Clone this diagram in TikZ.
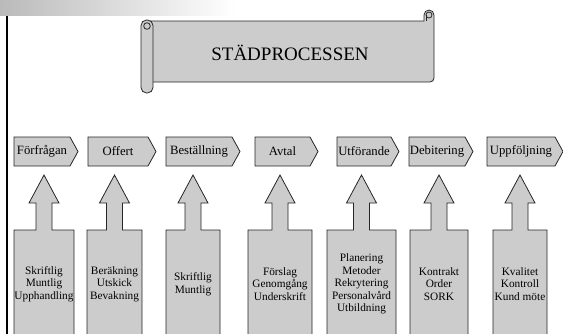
\documentclass[tikz,border=0pt]{standalone}
\usepackage{fontspec}
\setmainfont{Liberation Serif}
\usepackage{tikz}
\usetikzlibrary{calc}
\def\procchevron[#1](#2:#3)#4#5{\draw[#1] (#2,-137) -- (#3,-137) -- ({#3+8},-151.5) -- (#3,-166) -- (#2,-166) -- cycle;
	\node[steplabel] (#4) at ({(#2+#3)/2},-151.5) {#5};}
\def\upblock[#1](#2:#3)#4#5{\draw[#1] (#2,-340) -- (#2,-230) -- ({(#2+#3)/2-8},-230) -- ({(#2+#3)/2-8},-203) -- ({(#2+#3)/2-15},-203) -- ({(#2+#3)/2},-175) -- ({(#2+#3)/2+15},-203) -- ({(#2+#3)/2+8},-203) -- ({(#2+#3)/2+8},-230) -- (#3,-230) -- (#3,-340);
	\node[blocktext] (#4) at ({(#2+#3)/2},-284) {#5};}
\tikzset{
	shapefill/.style={fill=black!20, draw=black!85, line width=0.8pt},
	steplabel/.style={inner sep=0pt, font=\fontsize{12.7}{14}\selectfont},
	blocktext/.style={inner sep=0pt, align=center, font=\fontsize{11.3}{12.6}\selectfont}
}
\begin{document}
\begin{tikzpicture}[x=1pt, y=1pt]
			%%%%% START %%%%%
			\clip (0,0) rectangle (563,-333);
			
			\shade[left color=black!27, right color=white] (0,0) rectangle (235,-15);
			\draw[line width=2.4pt] (6.7,-15.5) -- (6.7,-340);
			
			% scroll
			\draw[shapefill] (147,-21) -- (424,-21) -- (424,-15) arc[start angle=180, end angle=0, radius=5] -- (434,-78) arc[start angle=0, end angle=-90, radius=4] -- (147,-82) -- cycle;
			\draw[shapefill] (429,-15) circle (3);
			\draw[shapefill] (426,-21) -- (426,-15);
			\draw[shapefill, rounded corners=5.5pt] (141,-20) rectangle (153,-93);
			\draw[shapefill] (147,-26) circle (3.3);
			\node[font=\fontsize{19}{22}\selectfont, inner sep=0pt] (title) at (290,-53) {STÄDPROCESSEN};
			
			% process steps
			\procchevron[shapefill](14:70){forfragan}{Förfrågan}
			\procchevron[shapefill](88:148){offert}{Offert}
			\procchevron[shapefill](166:232){bestallning}{Beställning}
			\procchevron[shapefill](255:310){avtal}{Avtal}
			\procchevron[shapefill](337:391){utforande}{Utförande}
			\procchevron[shapefill](409:465){debitering}{Debitering}
			\procchevron[shapefill](487:555){uppfoljning}{Uppföljning}
			
			% blocks below
			\upblock[shapefill](14:74){forfraganinfo}{Skriftlig\\Muntlig\\Upphandling}
			\upblock[shapefill](87:142){offertinfo}{Beräkning\\Utskick\\Bevakning}
			\upblock[shapefill](166:220){bestallninginfo}{Skriftlig\\Muntlig}
			\upblock[shapefill](248:312){avtalinfo}{Förslag\\Genomgång\\Underskrift}
			\upblock[shapefill](327:396){utforandeinfo}{Planering\\Metoder\\Rekrytering\\Personalvård\\Utbildning}
			\upblock[shapefill](410:468){debiteringinfo}{Kontrakt\\Order\\SORK}
			\upblock[shapefill](493:547){uppfoljninginfo}{Kvalitet\\Kontroll\\Kund möte}
			
			%%%%% END %%%%%
\end{tikzpicture}
\end{document}
